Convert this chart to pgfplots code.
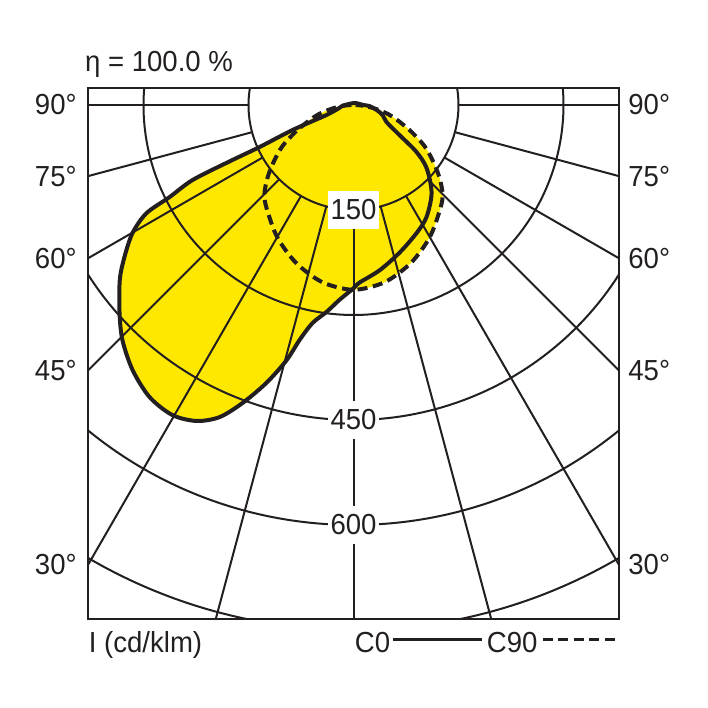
\documentclass[border=0pt]{standalone}
\usepackage{fontspec}
\setmainfont{Liberation Sans}[FakeStretch=0.95]
\usepackage{pgfplots}
\pgfplotsset{compat=1.18}
\usepackage{pgfplotstable}

\definecolor{ldcyellow}{RGB}{255,232,0}
\definecolor{ink}{RGB}{35,31,32}

% C0 plane: angle from nadir (negative = left half), intensity in cd/klm
\pgfplotstableread{
a r
0 262
1.9 254
9 239
17.3 221
26.2 204
33.1 191
41.6 168
49.2 138
53.3 112
56.9 78
62.7 53
71 44
77.7 34
86 23
90 14
160 3
-86 16
-78 21
-69.7 41
-67.7 94
-65.9 147
-65.5 199
-65 254
-63.4 294
-62.4 334
-59.9 365
-56.4 393
-53.2 417
-48.4 447
-44.5 471
-39.8 493
-34.9 509
-30.3 513
-26.4 504
-23.2 485
-20.4 454
-17.4 416
-14.7 377
-12.9 344
-10.65 317
-7.4 298
-4.1 279
0 262
}\czero

% C90 plane
\pgfplotstableread{
a r
-90 3
-85 16
-80 33
-75 52
-70 70
-65 92
-60 117
-55 138
-50 160
-45 180
-40 193
-30 218
-20 240
-10 257
0 264
10 257
20 240
30 218
40 193
45 180
50 160
55 138
60 117
65 92
70 70
75 52
80 33
85 16
90 3
}\cninety

\pgfplotsset{
  ldcaxis/.style={
    at={(44pt,44.5pt)}, anchor=south west,
    scale only axis, width=265.5pt, height=265.5pt,
    xmin=-379.3, xmax=379.3, ymin=-734.3, ymax=24.3,
    xtick=\empty, ytick=\empty,
  },
}

\begin{document}
\begin{tikzpicture}[font=\fontsize{14.5}{17}\selectfont, text=ink]
\path[use as bounding box] (0,0) rectangle (354pt,354pt);
% axis 1: yellow areas
\begin{axis}[ldcaxis, name=ax, axis line style={draw=none}]
\addplot[fill=ldcyellow, draw=none, smooth] table[x expr={\thisrow{r}*sin(\thisrow{a})}, y expr={-\thisrow{r}*cos(\thisrow{a})}] {\czero};
\addplot[fill=ldcyellow, draw=none, smooth] table[x expr={\thisrow{r}*sin(\thisrow{a})}, y expr={-\thisrow{r}*cos(\thisrow{a})}] {\cninety};
\end{axis}

% polar grid (1 cd/klm = 0.35pt), origin at the lamp, trimmed to the frame
\coordinate (C) at ([yshift=-8.505pt]ax.north);
\begin{scope}[shift={(C)}, ink, line width=1pt]
% circles 150, 300, 450, 600, 750
\draw (170.68:52.5pt) arc[start angle=170.68, end angle=369.32, radius=52.5pt];
\draw (175.354:105pt) arc[start angle=175.354, end angle=364.646, radius=105pt];
\draw (212.55:157.5pt) arc[start angle=212.55, end angle=327.45, radius=157.5pt];
\draw (230.79:210pt) arc[start angle=230.79, end angle=309.21, radius=210pt];
\draw (239.62:262.5pt) arc[start angle=239.62, end angle=258.25, radius=262.5pt];
\draw (281.75:262.5pt) arc[start angle=281.75, end angle=300.38, radius=262.5pt];
% radial lines every 15 degrees
\foreach \ang/\re in {-180/132.75, -165/137.4, -150/153.3, -135/187.7, -120/265.5, -105/266.1, -90/257, -75/266.1, -60/265.5, -45/187.7, -30/153.3, -15/137.4, 0/132.75}{
  \draw (\ang:52.5pt) -- (\ang:\re pt);
}
\end{scope}

% intensity labels
\node[fill=white, inner xsep=1.2pt, inner ysep=4.5pt] at ([yshift=-52.5pt]C) {150};
\node[fill=white, inner xsep=1.2pt, inner ysep=4.5pt] at ([yshift=-157.5pt]C) {450};
\node[fill=white, inner xsep=1.2pt, inner ysep=4.5pt] at ([yshift=-210pt]C) {600};

% axis 2: curves and frame
\begin{axis}[ldcaxis, name=ax2, axis line style={line width=1.4pt, ink}]
\addplot[ink, line width=2pt, smooth] table[x expr={\thisrow{r}*sin(\thisrow{a})}, y expr={-\thisrow{r}*cos(\thisrow{a})}] {\czero};
\addplot[ink, line width=2pt, smooth, dash pattern=on 5pt off 2.8pt] table[x expr={\thisrow{r}*sin(\thisrow{a})}, y expr={-\thisrow{r}*cos(\thisrow{a})}] {\cninety};
\end{axis}

% angle labels
\foreach \dy/\t in {8.5/90°, 44.06/75°, 85.15/60°, 141.26/45°, 238.45/30°}{
  \node[anchor=east, inner sep=0pt] at ([xshift=-5.5pt, yshift=-\dy pt]ax.north west) {\t};
  \node[anchor=west, inner sep=0pt] at ([xshift=4.5pt, yshift=-\dy pt]ax.north east) {\t};
}

% header and footer
\node[anchor=base west, inner sep=0pt] at ([xshift=-1.65pt, yshift=8.16pt]ax.north west) {η = 100.0 \%};
\node[anchor=base west, inner sep=0pt] at ([xshift=0.25pt, yshift=-16.7pt]ax.south west) {I (cd/klm)};
\node[anchor=base west, inner sep=0pt] at ([xshift=0.5pt, yshift=-16.7pt]ax.south) {C0};
\draw[ink, line width=1.7pt] ([xshift=19.5pt, yshift=-10.4pt]ax.south) -- ([xshift=64pt, yshift=-10.4pt]ax.south);
\node[anchor=base west, inner sep=0pt] at ([xshift=66.5pt, yshift=-16.7pt]ax.south) {C90};
\draw[ink, line width=1.7pt, dash pattern=on 5pt off 2.8pt] ([xshift=94.5pt, yshift=-10.4pt]ax.south) -- ([xshift=131.5pt, yshift=-10.4pt]ax.south);
\end{tikzpicture}
\end{document}
